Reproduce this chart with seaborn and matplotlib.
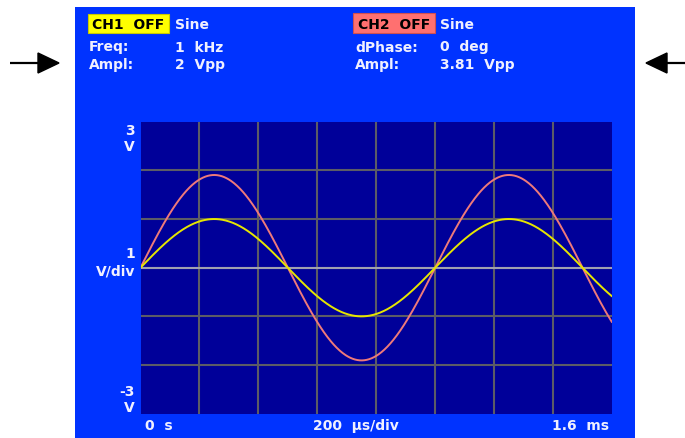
import numpy as np
import pandas as pd
import matplotlib
matplotlib.use("Agg")
import matplotlib.pyplot as plt
import seaborn as sns
from matplotlib.patches import Rectangle, Polygon

sns.set_theme(style="white")
plt.rcParams['font.family'] = ['DejaVu Sans']

# ---- data (instrument settings shown on screen) ----
channels = ["CH1", "CH2"]
freq_hz = 1000.0            # Freq: 1 kHz
ampl_vpp = [2.0, 3.81]      # Ampl: 2 Vpp, 3.81 Vpp
dphase_deg = [0.0, 0.0]     # dPhase: 0 deg
time_span_ms = 1.6          # 0 s .. 1.6 ms (200 us/div)
volt_range = [-3, 3]        # -3 V .. 3 V (1 V/div)
line_colors = {"CH1": "#E6E600", "CH2": "#EE7A7A"}

t_ms = np.linspace(0, time_span_ms, 801)
frames = []
for ch, vpp, ph in zip(channels, ampl_vpp, dphase_deg):
    v = (vpp / 2.0) * np.sin(2 * np.pi * freq_hz * t_ms / 1000.0 + np.deg2rad(ph))
    frames.append(pd.DataFrame({"t_ms": t_ms, "v": v, "channel": ch}))
df = pd.concat(frames, ignore_index=True)

W, H = 685, 439
fig = plt.figure(figsize=(W / 100, H / 100), dpi=100)
fig.patch.set_facecolor("white")

# background overlay in pixel coords
bg = fig.add_axes([0, 0, 1, 1], zorder=0)
bg.set_xlim(0, W)
bg.set_ylim(H, 0)
bg.axis("off")
PANEL = "#0033FF"
bg.add_patch(Rectangle((75, 8), 560, H - 8 + 2, facecolor=PANEL, edgecolor="none"))

# arrows
bg.plot([10, 42], [64, 64], color="black", lw=1.6, solid_capstyle="butt")
bg.add_patch(Polygon([[38, 54], [59, 64], [38, 74]], closed=True, facecolor="black", edgecolor="black"))
bg.plot([664, 685], [64, 64], color="black", lw=1.6, solid_capstyle="butt")
bg.add_patch(Polygon([[667, 54], [646, 64], [667, 74]], closed=True, facecolor="black", edgecolor="black"))

TXT = "#F0F0FF"
fkw = dict(fontsize=10, fontweight="bold", va="center")

# channel header boxes
bg.add_patch(Rectangle((88, 15), 81, 19, facecolor="#FFFF00", edgecolor="#C8C800", lw=0.8))
bg.text(128.5, 25, "CH1  OFF", color="black", ha="center", **fkw)
bg.add_patch(Rectangle((353, 14), 82, 20, facecolor="#FF7070", edgecolor="#D05050", lw=0.8))
bg.text(394, 25, "CH2  OFF", color="black", ha="center", **fkw)

bg.text(175, 25, "Sine", color=TXT, ha="left", **fkw)
bg.text(440, 25, "Sine", color=TXT, ha="left", **fkw)
bg.text(89, 47.5, "Freq:", color=TXT, ha="left", **fkw)
bg.text(175, 47.5, "1  kHz", color=TXT, ha="left", **fkw)
bg.text(89, 65.5, "Ampl:", color=TXT, ha="left", **fkw)
bg.text(175, 65.5, "2  Vpp", color=TXT, ha="left", **fkw)
bg.text(355, 47.5, "dPhase:", color=TXT, ha="left", **fkw)
bg.text(440, 47.5, "0  deg", color=TXT, ha="left", **fkw)
bg.text(355, 65.5, "Ampl:", color=TXT, ha="left", **fkw)
bg.text(440, 65.5, "3.81  Vpp", color=TXT, ha="left", **fkw)

# axis annotations
bg.text(135, 131.5, "3", color=TXT, ha="right", **fkw)
bg.text(135, 147, "V", color=TXT, ha="right", **fkw)
bg.text(135, 254, "1", color=TXT, ha="right", **fkw)
bg.text(135, 271.5, "V/div", color=TXT, ha="right", **fkw)
bg.text(135, 392, "-3", color=TXT, ha="right", **fkw)
bg.text(135, 408, "V", color=TXT, ha="right", **fkw)
bg.text(145, 426.5, "0  s", color=TXT, ha="left", **fkw)
bg.text(313, 426.5, "200  μs/div", color=TXT, ha="left", **fkw)
bg.text(609, 426.5, "1.6  ms", color=TXT, ha="right", **fkw)

# plot area
x0, x1, y0, y1 = 140.5, 612.0, 122.7, 414.7
ax = fig.add_axes([x0 / W, (H - y1) / H, (x1 - x0) / W, (y1 - y0) / H], zorder=1)
ax.set_facecolor("#000099")
ax.set_xlim(0, time_span_ms)
ax.set_ylim(*volt_range)
# interior divisions only (no lines on the frame edges)
ax.set_xticks(np.arange(0.2, time_span_ms - 1e-9, 0.2))
ax.set_yticks(np.arange(volt_range[0] + 1, volt_range[1], 1))
ax.tick_params(length=0, labelbottom=False, labelleft=False)
ax.grid(True, color="#5C5C66", lw=1.5)
ax.axhline(0, color="#A0A0B0", lw=1.5, zorder=1.5)
for s in ax.spines.values():
    s.set_visible(False)

sns.lineplot(data=df, x="t_ms", y="v", hue="channel", hue_order=["CH2", "CH1"],
             palette=line_colors, legend=False, lw=1.4, ax=ax, zorder=3)
ax.set_xlabel("")
ax.set_ylabel("")

fig.savefig("out.png", dpi=100, facecolor="white")
